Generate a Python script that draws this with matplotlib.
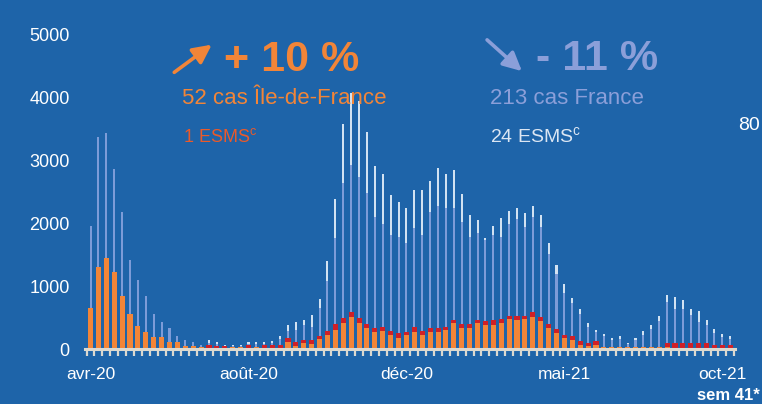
import numpy as np
import matplotlib
matplotlib.use('Agg')
import matplotlib.pyplot as plt

# weekly series, week 14-2020 .. week 41-2021 (82 weeks)
france_total = [1958, 3376, 3440, 2860, 2180, 1417, 1093, 844, 552, 430,
                340, 207, 138, 106, 64, 143, 106, 64, 64, 64,
                106, 106, 106, 133, 212, 388, 425, 462, 541, 796,
                1407, 2383, 3578, 4082, 3949, 3461, 2919, 2781, 2452, 2346,
                2240, 2532, 2532, 2675, 2888, 2781, 2850, 2463, 2134, 2054,
                1773, 1959, 2091, 2198, 2240, 2171, 2277, 2134, 1693, 1338,
                1035, 812, 637, 414, 308, 239, 170, 202, 100, 170,
                280, 385, 531, 855, 823, 786, 637, 600, 462, 318,
                245, 207]
france_base = [1958, 3376, 3440, 2860, 2180, 1417, 1093, 844, 552, 430,
               340, 207, 138, 106, 64, 96, 75, 45, 45, 45,
               75, 75, 75, 90, 160, 281, 300, 382, 356, 648,
               1083, 1773, 2638, 2930, 2744, 2489, 2097, 1990, 1815, 1778,
               1693, 1921, 1815, 2176, 2277, 2240, 2240, 2028, 1778, 1842,
               1736, 1815, 1778, 1990, 2070, 1948, 2100, 1940, 1518, 1194,
               886, 733, 557, 345, 265, 200, 140, 165, 80, 140,
               230, 320, 440, 748, 643, 640, 536, 430, 390, 255,
               186, 159]
idf_base = [658, 1311, 1454, 1231, 844, 552, 366, 266, 191, 191,
            117, 117, 48, 48, 27, 10, 10, 10, 27, 27,
            10, 27, 10, 15, 15, 106, 53, 90, 74, 159,
            223, 303, 409, 515, 409, 329, 265, 287, 223, 180,
            223, 276, 223, 265, 265, 303, 409, 329, 329, 409,
            382, 382, 409, 478, 462, 478, 515, 446, 329, 260,
            175, 143, 64, 42, 64, 27, 27, 27, 27, 27,
            27, 27, 27, 27, 20, 20, 15, 15, 15, 10,
            10, 10]
idf_total = [658, 1311, 1454, 1231, 844, 552, 366, 266, 191, 191,
             117, 117, 48, 48, 27, 64, 53, 53, 27, 27,
             64, 27, 64, 64, 64, 170, 106, 143, 143, 212,
             287, 393, 499, 584, 499, 393, 329, 345, 287, 249,
             276, 356, 287, 329, 329, 356, 462, 393, 393, 462,
             446, 462, 472, 531, 531, 531, 584, 504, 393, 315,
             228, 202, 122, 96, 133, 27, 27, 27, 27, 27,
             27, 27, 27, 96, 90, 90, 90, 90, 90, 60,
             60, 60]
month_labels = ['avr-20', 'août-20', 'déc-20', 'mai-21', 'oct-21']
label_pos = [0, 20, 40, 60, 80]

BG = '#1e64a9'
ORANGE = '#f28538'
RED = '#cf2027'
LINE_LO = '#7d9cd8'
LINE_HI = '#d2e2f2'
PERI = '#8b9fd9'

plt.rcParams['font.family'] = ['Liberation Sans', 'DejaVu Sans']

W, H = 762, 404
fig = plt.figure(figsize=(W / 100, H / 100), dpi=100, facecolor=BG)
ax = fig.add_axes([85 / W, 1 - 349 / H, 650 / W, 314 / H], facecolor=BG)

x = np.arange(len(france_total))
ft = np.array(france_total)
fb = np.array(france_base)
ib = np.array(idf_base)
it = np.array(idf_total)

ax.bar(x, fb, width=0.26, color=LINE_LO, zorder=2)
ax.bar(x, ft - fb, bottom=fb, width=0.26, color=LINE_HI, zorder=2)
ax.bar(x, ib, width=0.64, color=ORANGE, zorder=3)
ax.bar(x, it - ib, bottom=ib, width=0.64, color=RED, zorder=3)

ax.set_xlim(-0.7, 81.6)
ax.set_ylim(0, 5000)
for s in ['top', 'right', 'left']:
    ax.spines[s].set_visible(False)
ax.spines['bottom'].set_color('#dcd9d0')
ax.spines['bottom'].set_linewidth(2.2)
ax.spines['bottom'].set_zorder(4)

ax.set_yticks([0, 1000, 2000, 3000, 4000, 5000])
ax.tick_params(axis='y', length=0, pad=11, labelcolor='white', labelsize=13)
ax.set_xticks(label_pos)
ax.set_xticklabels(month_labels)
ax.set_xticks(np.arange(-0.5, 82, 1), minor=True)
ax.tick_params(axis='x', which='major', length=0, pad=13, labelcolor='white', labelsize=12.5)
ax.tick_params(axis='x', which='minor', length=5, width=1.6, color='#dcd9d0', direction='out')


def fx(px):
    return px / W


def fy(py):
    return 1 - py / H


# headline annotations
fig.patches.append(matplotlib.patches.FancyArrowPatch(
    (fx(172), fy(74)), (fx(214), fy(43)), transform=fig.transFigure,
    arrowstyle='-|>', mutation_scale=28, lw=2.6, color=ORANGE))
fig.text(fx(224), fy(60), '+ 10 %', color=ORANGE, fontsize=31,
         fontweight='bold', va='center', ha='left')
fig.text(fx(182), fy(98), '52 cas Île-de-France', color=ORANGE, fontsize=16,
         va='center', ha='left')
fig.text(fx(183), fy(137), '1 ESMS$^{\\mathregular{c}}$', color='#ea5a2a', fontsize=13,
         va='center', ha='left')

fig.patches.append(matplotlib.patches.FancyArrowPatch(
    (fx(485), fy(38)), (fx(524), fy(73)), transform=fig.transFigure,
    arrowstyle='-|>', mutation_scale=28, lw=2.6, color=PERI))
fig.text(fx(536), fy(59), '- 11 %', color=PERI, fontsize=31,
         fontweight='bold', va='center', ha='left')
fig.text(fx(490), fy(98), '213 cas France', color=PERI, fontsize=16,
         va='center', ha='left')
fig.text(fx(490), fy(137), '24 ESMS$^{\\mathregular{c}}$', color='#dbe6f3', fontsize=14,
         va='center', ha='left')

fig.text(fx(760), fy(126), '80', color='white', fontsize=14, va='center', ha='right')
fig.text(fx(760), fy(396), 'sem 41*', color='white', fontsize=12,
         fontweight='bold', va='center', ha='right')

fig.savefig('out.png', dpi=100, facecolor=BG)
